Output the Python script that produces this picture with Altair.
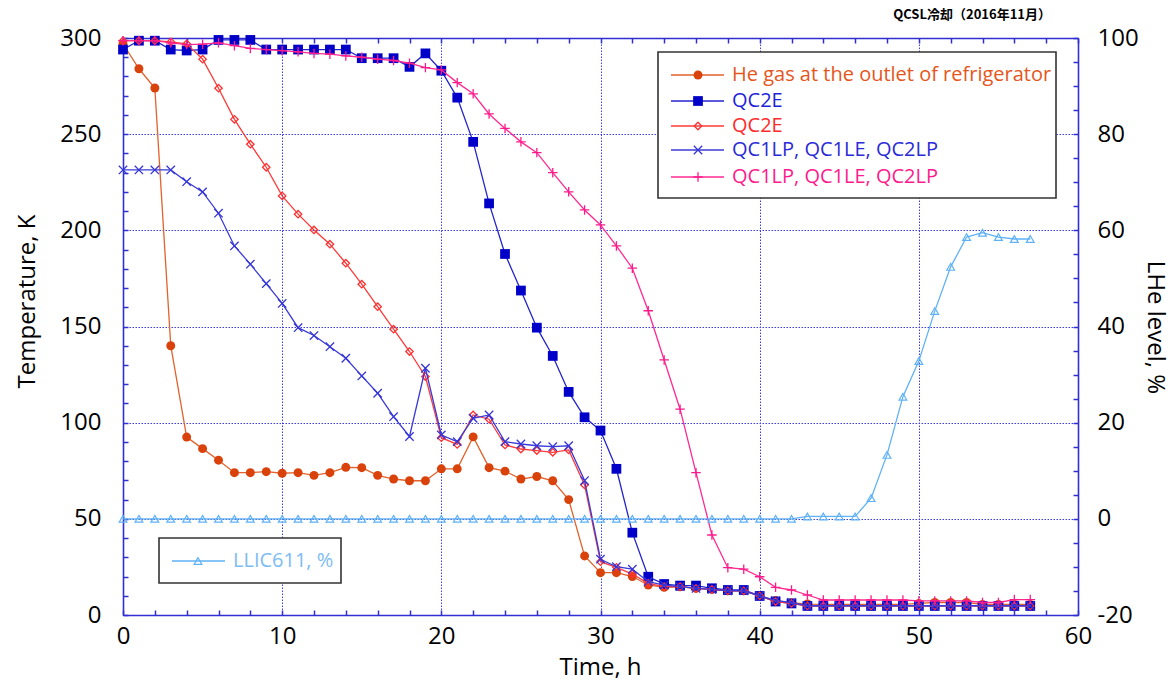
import altair as alt
import pandas as pd

# ---------------- data ----------------
hours = list(range(58))

he_gas = [297, 284, 274, 140, 92.5, 86.5, 80.5, 74, 74, 74.5, 73.7, 74, 72.6, 74, 76.8, 76.6, 72.6, 70.7, 69.8, 69.8,
          76, 76, 92.6, 76.6, 74.8, 70.7, 72, 69.8, 60, 30.7, 22, 22, 20, 15.6, 14.4, 14.7, 13.8, 13.3, 12.6, 12.6,
          10, 7.5, 6.4, 5.7, 5.5, 5.5, 5.5, 5.5, 5.5, 5.5, 6, 6.5, 6.5, 6.5, 5.5, 5.5, 5.5, 5.5]

qc2e_blue = [294, 298.6, 298.6, 294, 293.5, 294, 299, 299, 299, 294, 294, 294, 294, 294, 294, 289.5, 289.5, 289.5, 285, 292,
             283, 269, 246, 214, 187.7, 168.7, 149.4, 134.7, 116, 102.8, 95.9, 76, 42.8, 19.9, 16.1, 15.3, 15.3, 13.9, 13, 13,
             9.9, 7, 6, 4.7, 4.7, 4.7, 4.7, 4.7, 4.7, 4.7, 4.7, 4.7, 4.7, 4.7, 4.7, 4.7, 4.7, 4.7]

qc2e_red = [298.6, 298.6, 298.6, 298, 297, 289, 273.9, 257.7, 244.8, 232.8, 217.9, 208.4, 200.2, 192.8, 182.9, 172, 160.3, 148.6, 137, 124,
            92.2, 88.7, 104, 101.8, 88.4, 86.3, 85.5, 84.6, 85.8, 67.6, 27.7, 24.8, 21.3, 16.5, 14.8, 14.8, 13.8, 13.3, 12.6, 12.6,
            10, 7, 6, 4.7, 4.7, 4.7, 4.7, 4.7, 4.7, 4.7, 4.7, 4.7, 4.7, 4.7, 4.7, 4.7, 4.7, 4.7]

qc1_blue = [231.4, 231.4, 231.4, 231.4, 225.3, 220, 208.9, 191.9, 182.4, 172.3, 162, 149.4, 145.3, 139.5, 133.5, 124.3, 115.3, 103.1, 92.8, 128.3,
            93.6, 90.1, 102.3, 104, 90.1, 88.9, 88, 87.5, 88, 69.9, 29, 25.1, 23.8, 17.3, 15.5, 14.8, 13.8, 13.3, 12.6, 12.6,
            10, 7.5, 6.5, 4.8, 4.8, 4.8, 4.8, 4.8, 4.8, 4.8, 4.8, 4.8, 4.8, 4.8, 4.8, 4.8, 4.8, 4.8]

qc1_pink = [298.6, 298.6, 298.6, 297.5, 296.6, 296.8, 297.5, 296, 294.6, 294, 293.4, 292.8, 292, 291.6, 290.7, 290, 289, 288.3, 286.9, 284.6,
            283.4, 276.8, 271, 260.5, 253, 246, 240.4, 230, 220, 210.6, 202.8, 191.9, 180.3, 158.2, 132.6, 107, 74, 41.6, 24.6, 23.8,
            19.9, 14.4, 13, 10.4, 7.8, 7.8, 7.8, 7.8, 7.8, 7.8, 7.3, 7.3, 7.3, 7.3, 6.5, 6.5, 8, 8]

llic611 = [0] * 43 + [0.5, 0.5, 0.5, 0.5, 4.3, 13.3, 25.4, 32.8, 43.2, 52.4, 58.6, 59.5, 58.6, 58.2, 58.2]

legend_labels = ["He gas at the outlet of refrigerator", "QC2E", "QC2E",
                 "QC1LP, QC1LE, QC2LP", "QC1LP, QC1LE, QC2LP"]
legend2_label = "LLIC611, %"
title_text = "QCSL冷却（2016年11月）"

df = pd.DataFrame({"t": hours, "he": he_gas, "q2b": qc2e_blue, "q2r": qc2e_red,
                   "q1b": qc1_blue, "q1p": qc1_pink, "ll": llic611})
one = pd.DataFrame({"a": [0]})

# ---------------- styling ----------------
W, H = 955, 577
FONT = "Open Sans"
AX = "#2f2fd2"
GRID = "#3c3ce0"
X_PATH = "M-1,-1L1,1M-1,1L1,-1"
PLUS_PATH = "M-1,0L1,0M0,-1L0,1"

x_scale = alt.Scale(domain=[0, 60], nice=False, zero=False)
y_scale = alt.Scale(domain=[0, 300], nice=False, zero=False)
r_scale = alt.Scale(domain=[-20, 100], nice=False, zero=False)

common = dict(domainColor=AX, domainWidth=1.6, tickColor=AX, tickWidth=1.5,
              tickSize={"expr": "-5"}, labelFont=FONT, labelFontSize=24, labelColor="black",
              titleFont=FONT, titleFontSize=24, titleFontWeight="normal", titleColor="black",
              labelFlush=False, labelOverlap=False)

x_bottom = alt.Axis(orient="bottom", values=list(range(0, 61, 2)),
                    labelExpr="datum.value % 10 == 0 ? datum.label : ''",
                    grid=True, gridColor=GRID, gridDash=[1.5, 1.5], gridWidth=1,
                    gridOpacity={"condition": {"test": "datum.value % 10 == 0", "value": 1}, "value": 0},
                    labelPadding=14, title="Time, h", titleX=477, titleY=52,
                    titleBaseline="middle", titleAlign="center", **common)
x_top = alt.Axis(orient="top", values=list(range(0, 61, 2)), labels=False, grid=False,
                 title=None, **common)
y_left = alt.Axis(orient="left", values=list(range(0, 301, 10)),
                  labelExpr="datum.value % 50 == 0 ? datum.label : ''",
                  grid=True, gridColor=GRID, gridDash=[1.5, 1.5], gridWidth=1,
                  gridOpacity={"condition": {"test": "datum.value % 50 == 0", "value": 1}, "value": 0},
                  labelPadding=27, title="Temperature, K", titleX=-96, titleY=263, titleAngle=270,
                  titleBaseline="middle", titleAlign="center", **common)
y_right = alt.Axis(orient="right", values=list(range(-20, 101, 5)),
                   labelExpr="datum.value % 20 == 0 ? '' + datum.value : ''",
                   grid=False, labelPadding=24, title="LHe level, %", titleX=76, titleY=289,
                   titleAngle=90, titleBaseline="middle", titleAlign="center", **common)

series = [
    # field, line colour, marker colour, shape, filled, size
    ("he", "#e2622c", "#d9420b", "circle", True, 80),
    ("q2b", "#2424cc", "#0000c8", "square", True, 95),
    ("q2r", "#ff3a3a", "#ff3030", "diamond", False, 55),
    ("q1b", "#3a3ad8", "#3434d8", X_PATH, False, 70),
    ("q1p", "#ff2a90", "#ff1a8c", PLUS_PATH, False, 90),
]
text_colors = ["#e5561c", "#1f1fdc", "#ff2a2a", "#2a2ad8", "#ff1a8c"]

left_layers = []
for field, lc, mc, shape, filled, size in series:
    base = alt.Chart(df).encode(
        x=alt.X("t:Q", scale=x_scale, axis=x_bottom),
        y=alt.Y(f"{field}:Q", scale=y_scale, axis=y_left),
    )
    left_layers.append(base.mark_line(color=lc, strokeWidth=1.3))
    left_layers.append(base.mark_point(shape=shape, filled=filled, size=size, color=mc,
                                       strokeWidth=1.3, opacity=1))
left = alt.layer(*left_layers)

rbase = alt.Chart(df).encode(
    x=alt.X("t:Q", scale=x_scale, axis=x_top),
    y=alt.Y("ll:Q", scale=r_scale, axis=y_right),
)
ll_color = "#5fb2f7"
right = alt.layer(
    rbase.mark_line(color=ll_color, strokeWidth=1.3),
    rbase.mark_point(shape="triangle-up", filled=False, size=60, color=ll_color, strokeWidth=1.2, opacity=1),
)

# ---------------- legends ----------------
leg = []
leg.append(alt.Chart(one).mark_rect(fill="white", stroke="#333333", strokeWidth=1.6).encode(
    x=alt.value(535), x2=alt.value(933), y=alt.value(14), y2=alt.value(160)))
row_y = [37, 63, 88, 112, 139]
for (field, lc, mc, shape, filled, size), lab, tc, yy in zip(series, legend_labels, text_colors, row_y):
    leg.append(alt.Chart(one).mark_rule(color=lc, strokeWidth=1.3).encode(
        x=alt.value(548), x2=alt.value(601), y=alt.value(yy)))
    leg.append(alt.Chart(one).mark_point(shape=shape, filled=filled, size=size, color=mc,
                                         strokeWidth=1.3, opacity=1).encode(
        x=alt.value(575), y=alt.value(yy)))
    leg.append(alt.Chart(one).mark_text(text=lab, align="left", baseline="middle", font=FONT,
                                        fontSize=20, color=tc).encode(
        x=alt.value(609), y=alt.value(yy)))

leg.append(alt.Chart(one).mark_rect(fill="white", stroke="#333333", strokeWidth=1.6).encode(
    x=alt.value(36), x2=alt.value(218), y=alt.value(500), y2=alt.value(545)))
leg.append(alt.Chart(one).mark_rule(color=ll_color, strokeWidth=1.3).encode(
    x=alt.value(49), x2=alt.value(102), y=alt.value(523)))
leg.append(alt.Chart(one).mark_point(shape="triangle-up", filled=False, size=60, color=ll_color,
                                     strokeWidth=1.2, opacity=1).encode(
    x=alt.value(75), y=alt.value(523)))
leg.append(alt.Chart(one).mark_text(text=legend2_label, align="left", baseline="middle", font=FONT,
                                    fontSize=20, color="#7dbcf5").encode(
    x=alt.value(110), y=alt.value(523)))

ttl = alt.Chart(one).mark_text(text=title_text, align="right", baseline="middle",
                               font="Noto Sans CJK JP", fontSize=13, fontWeight="bold",
                               color="black").encode(x=alt.value(928), y=alt.value(-23))

chart = alt.layer(left, right, *leg, ttl).resolve_scale(y="independent").resolve_axis(
    x="independent", y="independent"
).properties(
    width=W, height=H,
    autosize=alt.AutoSizeParams(type="none"),
    padding={"left": 123, "top": 38, "right": 94, "bottom": 66},
    background="white",
).configure_view(stroke=None)

chart.save("out.html", embed_options={"renderer": "svg", "actions": False})
